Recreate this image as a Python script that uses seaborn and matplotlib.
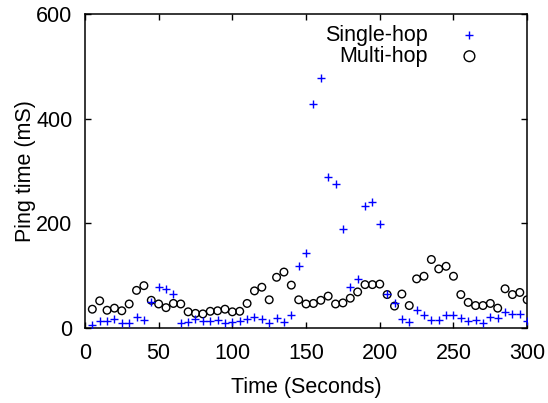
import matplotlib
matplotlib.use("Agg")
import matplotlib.pyplot as plt
import seaborn as sns
import numpy as np
import pandas as pd

sns.set_theme(style="ticks")
plt.rcParams["font.family"] = ["Liberation Sans", "DejaVu Sans"]
plt.rcParams["text.color"] = "black"
plt.rcParams["axes.labelcolor"] = "black"

# Sample times (seconds), one ping every 5 s
time_s = list(range(5, 301, 5))

# Single-hop ping times (mS)
single_hop = [6, 14, 14, 17, 10, 9, 21, 15, 50, 78,
              75, 65, 10, 12, 17, 14, 14, 15, 10, 12,
              14, 17, 22, 18, 10, 20, 12, 25, 119, 143,
              429, 477, 289, 276, 189, 78, 93, 234, 241, 199,
              65, 48, 17, 12, 34, 24, 15, 15, 24, 24,
              20, 13, 15, 10, 21, 20, 31, 26, 27, 14]

# Multi-hop ping times (mS)
multi_hop = [36, 52, 34, 38, 33, 46, 72, 81, 53, 46,
             39, 47, 46, 31, 28, 27, 32, 33, 36, 31,
             32, 47, 71, 78, 54, 97, 107, 82, 54, 46,
             47, 53, 61, 46, 48, 57, 69, 83, 83, 84,
             64, 42, 65, 43, 94, 99, 131, 113, 118, 99,
             64, 49, 43, 43, 47, 38, 75, 64, 68, 54]

df = pd.DataFrame({"time": time_s, "single": single_hop, "multi": multi_hop})

fig = plt.figure(figsize=(5.48, 4.03), dpi=100)
ax = fig.add_axes([0.155, 0.186, 0.807, 0.779])

sns.scatterplot(x="time", y="single", data=df, ax=ax, marker="+", s=30,
                color="#0000ff", linewidth=1.0, label="Single-hop", zorder=3)
sns.scatterplot(x="time", y="multi", data=df, ax=ax, marker="o", s=30,
                facecolor="none", edgecolor="black", linewidth=1.0,
                label="Multi-hop", zorder=2)

ax.set_xlim(0, 300)
ax.set_ylim(0, 600)
ax.set_xticks(np.arange(0, 301, 50))
ax.set_yticks(np.arange(0, 601, 200))
ax.set_xlabel("Time (Seconds)", fontsize=15.5, labelpad=9)
ax.set_ylabel("Ping time (mS)", fontsize=15.5, labelpad=0)
ax.tick_params(direction="in", length=4.5, width=1, top=True, right=True,
               labelsize=15.5, colors="black")
ax.tick_params(axis="x", pad=11)
ax.tick_params(axis="y", pad=9)
for sp in ax.spines.values():
    sp.set_visible(True)
    sp.set_linewidth(1.1)
    sp.set_color("black")

# markerfirst=False right-aligns the rows, so labels end together (gnuplot style)
leg = ax.legend(loc="upper right", frameon=False, markerfirst=False,
                fontsize=15.5, handletextpad=1.35, labelspacing=0.0,
                handlelength=1.2, borderaxespad=0.1,
                bbox_to_anchor=(0.923, 1.0))
# the key circle is drawn a bit bigger than the data circles
leg.legend_handles[1].set_sizes([60])

plt.savefig("out.png", dpi=100)
